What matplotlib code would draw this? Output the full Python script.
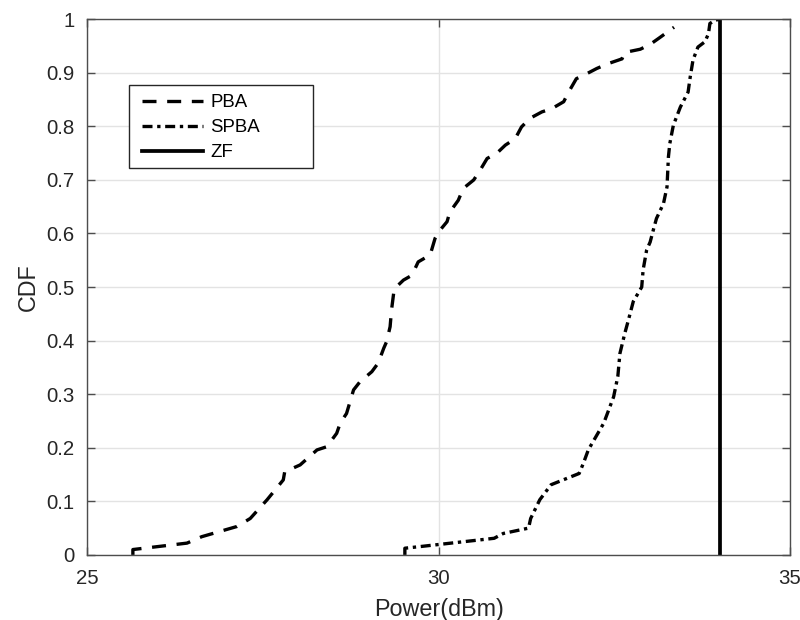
import matplotlib
matplotlib.use("Agg")
import matplotlib.pyplot as plt
from matplotlib.patches import Rectangle
from matplotlib.ticker import FuncFormatter

plt.rcParams['font.family'] = ['Liberation Sans', 'DejaVu Sans']

# empirical CDF traces of transmit power
pba_power = [25.65, 25.65, 26.42, 26.63, 27.13, 27.32, 27.56, 27.79, 27.81, 28.03,
             28.27, 28.41, 28.55, 28.60, 28.69, 28.79, 28.88, 29.05, 29.14, 29.22,
             29.26, 29.31, 29.33, 29.36, 29.38, 29.50, 29.62, 29.71, 29.88, 29.95,
             30.00, 30.12, 30.16, 30.28, 30.35, 30.50, 30.59, 30.69, 30.83, 30.95,
             31.09, 31.18, 31.30, 31.47, 31.61, 31.78, 31.85, 31.96, 32.06, 32.25,
             32.41, 32.61, 32.65, 32.87, 33.01, 33.15, 33.35]
pba_cdf = [0.0, 0.01, 0.022, 0.034, 0.053, 0.068, 0.103, 0.140, 0.155, 0.168,
           0.196, 0.202, 0.227, 0.246, 0.264, 0.308, 0.323, 0.342, 0.358, 0.386,
           0.398, 0.426, 0.457, 0.488, 0.498, 0.513, 0.522, 0.547, 0.560, 0.591,
           0.603, 0.622, 0.640, 0.662, 0.684, 0.700, 0.718, 0.740, 0.750, 0.765,
           0.777, 0.799, 0.815, 0.827, 0.833, 0.846, 0.864, 0.889, 0.895, 0.908,
           0.917, 0.926, 0.938, 0.944, 0.953, 0.966, 0.985]

spba_power = [29.52, 29.52, 29.70, 30.79, 30.92, 31.28, 31.31, 31.44, 31.60, 32.00,
              32.06, 32.13, 32.35, 32.49, 32.55, 32.58, 32.65, 32.70, 32.77, 32.89,
              32.91, 32.96, 33.01, 33.06, 33.10, 33.20, 33.25, 33.27, 33.29, 33.34,
              33.44, 33.55, 33.58, 33.62, 33.69, 33.79, 33.84, 33.86, 33.93, 34.0]
spba_cdf = [0.0, 0.0125, 0.015, 0.031, 0.040, 0.050, 0.068, 0.103, 0.131, 0.152,
            0.171, 0.196, 0.246, 0.295, 0.333, 0.376, 0.414, 0.438, 0.473, 0.500,
            0.532, 0.569, 0.584, 0.609, 0.628, 0.656, 0.687, 0.743, 0.768, 0.802,
            0.836, 0.864, 0.892, 0.924, 0.948, 0.958, 0.973, 0.992, 0.998, 1.0]

zf_power = [34.0, 34.0]
zf_cdf = [0.0, 1.0]

x_ticks = [25, 30, 35]
y_ticks = [0, 0.1, 0.2, 0.3, 0.4, 0.5, 0.6, 0.7, 0.8, 0.9, 1]

fig = plt.figure(figsize=(8, 6.2), dpi=100)
ax = fig.add_axes([0.109, 0.105, 0.8785, 0.864])

ax.plot(pba_power, pba_cdf, color='black', lw=2.4, linestyle=(0, (4.2, 3.2)), label='PBA')
ax.plot(spba_power, spba_cdf, color='black', lw=2.4, linestyle=(0, (3, 1.4, 1, 1.4)), label='SPBA')
ax.plot(zf_power, zf_cdf, color='black', lw=2.7, label='ZF')

ax.set_xlim(25, 35)
ax.set_ylim(0, 1)
ax.set_xticks(x_ticks)
ax.set_yticks(y_ticks)
ax.yaxis.set_major_formatter(FuncFormatter(lambda v, p: '%g' % v))

ax.grid(True, color='#e3e3e3', lw=1.0)
ax.set_axisbelow(True)
for s in ax.spines.values():
    s.set_color('#4d4d4d')
    s.set_linewidth(1.0)
ax.tick_params(direction='in', length=6, width=1.0, color='#4d4d4d',
               top=True, right=True, labelsize=14.7, labelcolor='#262626')
ax.tick_params(axis='y', pad=9)
ax.tick_params(axis='x', pad=10)

ax.set_xlabel('Power(dBm)', fontsize=16.8, color='#262626', labelpad=7)
ax.set_ylabel('CDF', fontsize=16.8, color='#262626', labelpad=5)

# MATLAB-style legend box: wide white frame with the entries on the left
box = Rectangle((0.06, 0.7225), 0.2618, 0.1545, transform=ax.transAxes,
                facecolor='white', edgecolor='#262626', lw=1.0, zorder=4)
ax.add_patch(box)
leg = ax.legend(loc='upper left', bbox_to_anchor=(0.068, 0.872), borderaxespad=0,
                fontsize=13.4, frameon=False, handlelength=3.3,
                handletextpad=0.4, labelspacing=0.42, borderpad=0.35)
leg.set_zorder(5)

fig.savefig('out.png', dpi=100)
